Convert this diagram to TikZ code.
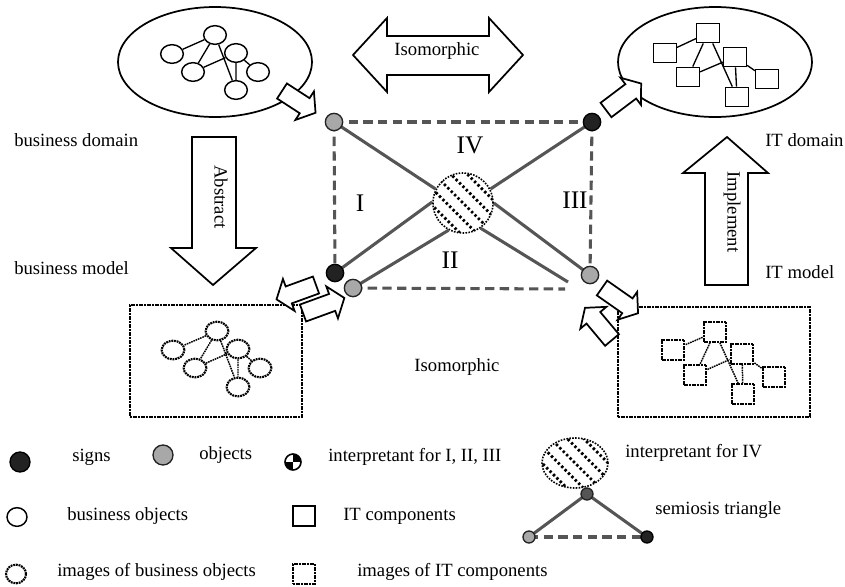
\documentclass[tikz,border=0pt]{standalone}
\usepackage{fontspec}
\setmainfont{Liberation Serif}
\usetikzlibrary{shapes.geometric,backgrounds}
\definecolor{lgrey}{HTML}{A8A8A8}
\definecolor{dk}{HTML}{222222}
\definecolor{lineg}{HTML}{555555}
\tikzset{
  lbl/.style={font=\fontsize{14}{16}\selectfont, inner sep=0pt},
  lbll/.style={lbl, anchor=west},
  roman/.style={font=\fontsize{19}{21}\selectfont, inner sep=0pt},
  bobj/.style={ellipse, draw, line width=1.1pt, minimum width=17pt, minimum height=14pt, inner sep=0pt},
  itc/.style={rectangle, draw, line width=1.1pt, minimum width=17pt, minimum height=14.5pt, inner sep=0pt},
  img/.style={dash pattern=on 1.4pt off 0.6pt, line width=1.6pt},
  gedge/.style={line width=1pt},
  iedge/.style={line width=1.1pt, dash pattern=on 1.2pt off 0.6pt},
  sign/.style={circle, draw=black, line width=1pt, fill=dk, minimum size=13pt, inner sep=0pt},
  objct/.style={circle, draw=dk, line width=1pt, fill=lgrey, minimum size=13pt, inner sep=0pt},
  semio/.style={line width=2.3pt, draw=lineg},
  semiod/.style={semio, dash pattern=on 7pt off 4pt},
  blk/.style={draw, line width=1.3pt, fill=white, line join=miter},
  domainell/.style={ellipse, draw, line width=1.3pt, minimum width=145.5pt, minimum height=82.5pt},
  hatchfill/.style={fill=white, draw, densely dotted, line width=1.2pt,
    path picture={\foreach \k in {-3,...,3}{
      \draw[black, line width=2.1pt, dash pattern=on 1.8pt off 1.8pt]
        ([shift={(\k*6.2pt-32pt,\k*6.2pt+32pt)}]path picture bounding box.center) --
        ([shift={(\k*6.2pt+32pt,\k*6.2pt-32pt)}]path picture bounding box.center);}}},
  quad/.style={circle, draw, line width=1.2pt, fill=white, minimum size=12pt, inner sep=0pt,
    path picture={
      \fill[black] (path picture bounding box.center) rectangle (path picture bounding box.north east);
      \fill[black] (path picture bounding box.center) rectangle (path picture bounding box.south west);}},
}
% small block arrow: tail centre x, y, direction, length
\newcommand\calloutarrow[4]{%
  \begin{scope}[shift={(#1,#2)},rotate=#3]
    \draw[blk] (0,-9) -- ({#4-13},-9) -- ({#4-13},-17) -- (#4,0) -- ({#4-13},17) -- ({#4-13},9) -- (0,9) -- cycle;
  \end{scope}}
\begin{document}
\begin{tikzpicture}[x=0.75pt,y=-0.75pt]
\useasboundingbox (0,0) rectangle (845,586);

% ---------- business domain ----------
\node[domainell] (bdom) at (215,62) {};
\node[bobj] (ba) at (215,35) {};
\node[bobj] (bb) at (172,54) {};
\node[bobj] (bc) at (193,72) {};
\node[bobj] (bd) at (236,53) {};
\node[bobj] (be) at (258,72) {};
\node[bobj] (bf) at (236,90) {};
\draw[gedge] (ba) -- (bb) (ba) -- (bc) (ba) -- (bf) (bc) -- (bd) (bd) -- (be) (bd) -- (bf);

% ---------- IT domain ----------
\node[domainell] (itdom) at (715,62) {};
\node[itc] (ia) at (708,33) {};
\node[itc] (ib) at (665,53) {};
\node[itc] (ic) at (688,77) {};
\node[itc] (id) at (735,57) {};
\node[itc] (ie) at (767,79) {};
\node[itc] (if) at (737,97) {};
\draw[gedge] (ia) -- (ib) (ia) -- (ic) (ia) -- (if) (ic) -- (id) (id) -- (ie) (id) -- (if);

% ---------- business model ----------
\node[draw, img, minimum width=129pt, minimum height=84pt, inner sep=0pt] (bmodel) at (216,361) {};
\node[bobj, img] (ma) at (217,331) {};
\node[bobj, img] (mb) at (173,350) {};
\node[bobj, img] (mc) at (195,368) {};
\node[bobj, img] (md) at (238,349) {};
\node[bobj, img] (me) at (260,368) {};
\node[bobj, img] (mf) at (238,387) {};
\draw[iedge] (ma) -- (mb) (ma) -- (mc) (ma) -- (mf) (mc) -- (md) (md) -- (me) (md) -- (mf);

% ---------- IT model ----------
\node[draw, img, minimum width=144pt, minimum height=83pt, inner sep=0pt] (itmodel) at (714,362) {};
\node[itc, img] (ja) at (715,332) {};
\node[itc, img] (jb) at (673,350) {};
\node[itc, img] (jc) at (695,375) {};
\node[itc, img] (jd) at (742,354) {};
\node[itc, img] (je) at (774,377) {};
\node[itc, img] (jf) at (743,394) {};
\draw[iedge] (ja) -- (jb) (ja) -- (jc) (ja) -- (jf) (jc) -- (jd) (jd) -- (je) (jd) -- (jf);

% ---------- big block arrows ----------
\draw[blk] (353,55) -- (387,18) -- (387,36) -- (489,36) -- (489,18) -- (523,55)
  -- (489,92) -- (489,75) -- (387,75) -- (387,92) -- cycle;
\node[lbl] (isotop) at (437,51) {Isomorphic};

\draw[blk] (192,137) -- (236,137) -- (236,248) -- (256,248) -- (213,285) -- (171,248) -- (192,248) -- cycle;
\node[lbl, rotate=-90] (abstr) at (221,197) {Abstract};

\draw[blk] (727,137) -- (768,173) -- (748,173) -- (748,285) -- (705,285) -- (705,173) -- (683,173) -- cycle;
\node[lbl, rotate=-90] (implem) at (732,212) {Implement};

% ---------- small callout arrows ----------
\calloutarrow{282}{91}{-33}{40}
\calloutarrow{606}{110}{37}{44}
\calloutarrow{316}{285}{200}{42}
\calloutarrow{303}{313}{20}{44}
\calloutarrow{602}{288}{-35}{44}
\calloutarrow{612}{340}{130}{42}

% ---------- semiosis square ----------
\node[objct] (oTL) at (334,122) {};
\node[sign]  (sTR) at (592,122) {};
\node[sign]  (sBL) at (335,273) {};
\node[objct] (oBL) at (353,288) {};
\node[objct] (oBR) at (590,275) {};
\node[hatchfill, circle, minimum size=45pt, inner sep=0pt] (interp) at (463,203) {};
\coordinate (bend) at (565,289);
\coordinate (free) at (568,282);
\begin{scope}[on background layer]
  \draw[semiod] (oTL.center) -- (sTR.center);
  \draw[semiod] (oTL.center) -- (sBL.center);
  \draw[semiod] (sTR.center) -- (oBR.center);
  \draw[semiod] (oBL.center) -- (bend);
  \draw[semio] (oTL.center) -- (interp.153);
  \draw[semio] (sTR.center) -- (interp.27);
  \draw[semio] (sBL.center) -- (interp.178);
  \draw[semio] (oBL.center) -- (interp.242);
  \draw[semio] (interp.0) -- (oBR.center);
  \draw[semio] (interp.305) -- (free);
\end{scope}
\node[roman] (rIV) at (470,145) {IV};
\node[roman] (rI) at (360,203) {I};
\node[roman] (rII) at (450,260) {II};
\node[roman] (rIII) at (575,200) {III};

% ---------- side labels ----------
\node[lbll] (tbd) at (14,140) {business domain};
\node[lbll] (tbm) at (14,268) {business model};
\node[lbll] (titd) at (765,140) {IT domain};
\node[lbll] (titm) at (765,272) {IT model};
\node[lbl] (isobot) at (457,367) {Isomorphic};

% ---------- legend ----------
\node[sign, minimum size=15pt] (lsign) at (20,462) {};
\node[lbll] (tsign) at (72,457) {signs};
\node[objct, minimum size=15pt] (lobj) at (163,455) {};
\node[lbll] (tobj) at (199,455) {objects};
\node[quad] (lquad) at (293,462) {};
\node[lbll] (tquad) at (328,457) {interpretant for I, II, III};
\node[hatchfill, ellipse, minimum width=49.5pt, minimum height=37.5pt, inner sep=0pt] (lhatch) at (575,463) {};
\node[lbll] (thatch) at (625,453) {interpretant for IV};

\node[bobj, minimum width=15pt, minimum height=14pt] (lbo) at (17,517) {};
\node[lbll] (tbo) at (67,516) {business objects};
\node[itc, minimum width=16.5pt, minimum height=15pt] (lit) at (304,516) {};
\node[lbll] (tit) at (343,516) {IT components};

\node[objct, minimum size=9pt, fill=lineg] (tTop) at (587,494) {};
\node[objct, minimum size=9pt] (tLeft) at (529,537) {};
\node[sign, minimum size=9pt] (tRight) at (647,537) {};
\begin{scope}[on background layer]
  \draw[semio] (tTop.center) -- (tLeft.center);
  \draw[semio] (tTop.center) -- (tRight.center);
  \draw[semiod] (tLeft.center) -- (tRight.center);
\end{scope}
\node[lbll] (tsemio) at (655,510) {semiosis triangle};

\node[bobj, img, minimum width=15pt, minimum height=14pt] (lbi) at (16,574) {};
\node[lbll] (tbi) at (57,572) {images of business objects};
\node[itc, img, minimum width=16.5pt, minimum height=15pt] (lii) at (304,574) {};
\node[lbll] (tii) at (357,572) {images of IT components};
\end{tikzpicture}
\end{document}
